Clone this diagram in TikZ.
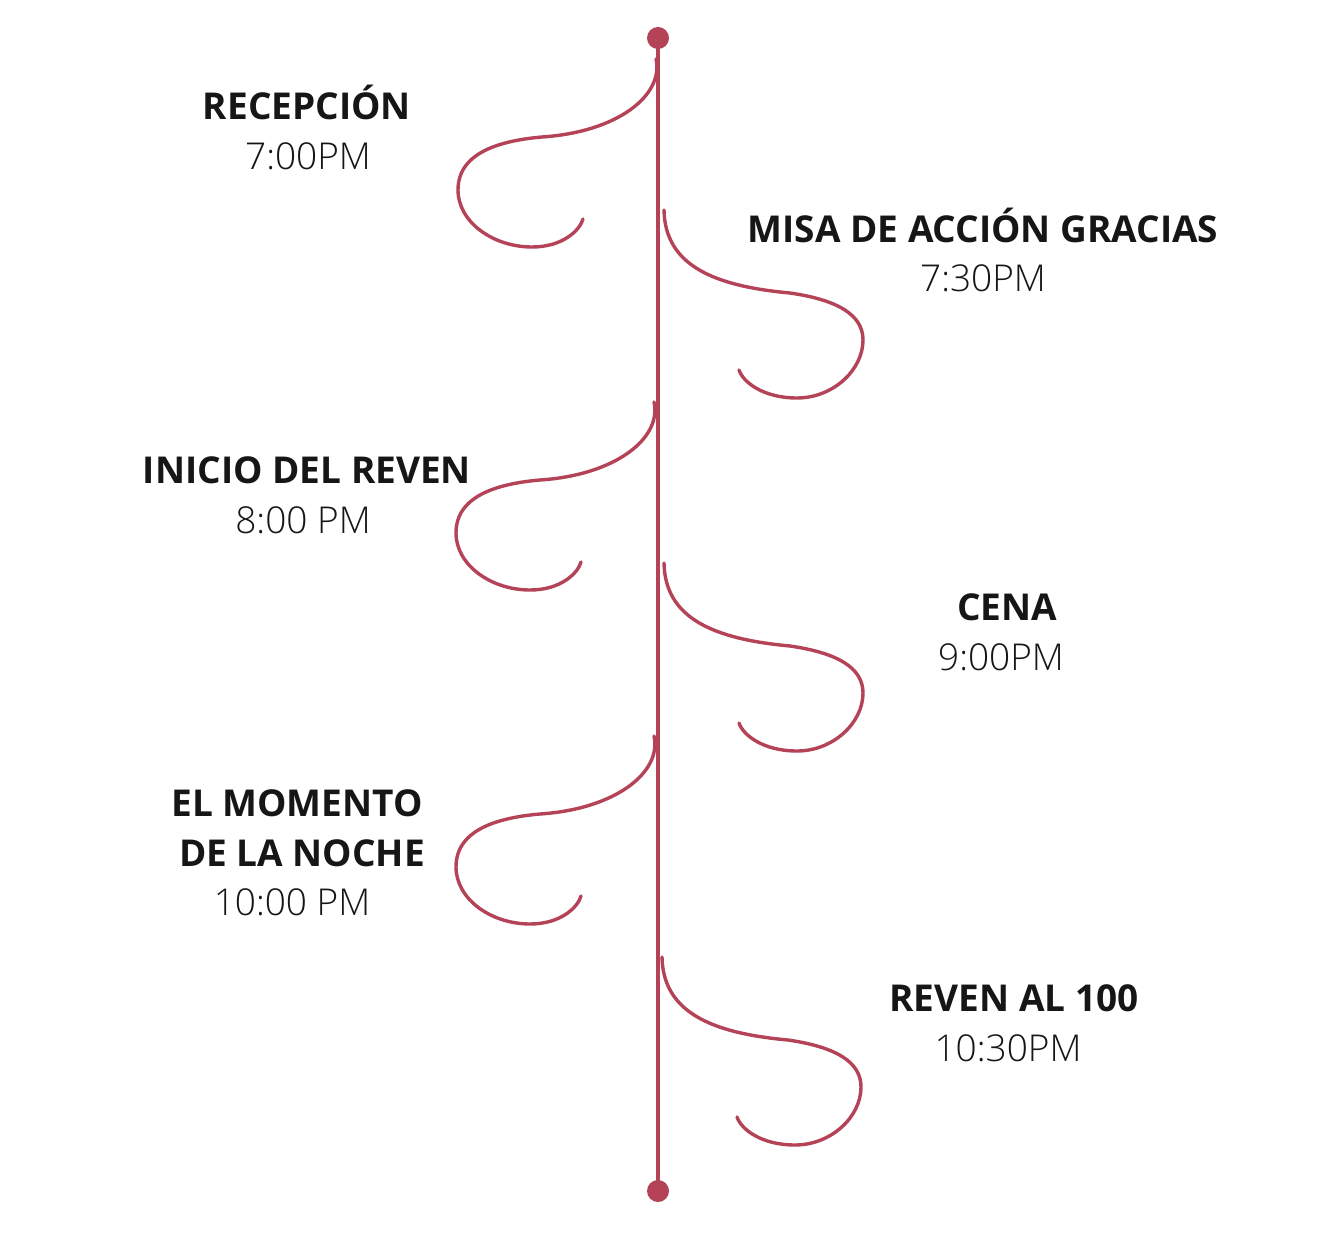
\documentclass[tikz,border=0pt]{standalone}
\usepackage{fontspec}
\setmainfont{Open Sans}
\newfontfamily\lightf{Open Sans Light}
\definecolor{wine}{RGB}{181,67,88}
\definecolor{ink}{RGB}{22,22,22}
\tikzset{
  curl/.style={draw=wine, line width=3.4pt, line cap=round},
  axisline/.style={draw=wine, line width=4pt},
  dotnode/.style={circle, fill=wine, minimum size=22pt, inner sep=0pt},
  title/.style={anchor=base, inner sep=0pt, text=ink, font=\fontsize{37}{42}\selectfont\bfseries},
  when/.style={anchor=base, inner sep=0pt, text=ink, font=\fontsize{37}{42}\selectfont\lightf},
}
\newcommand\lcurl[1]{%
  \draw[curl, shift={#1}] (198,-131) .. controls (206,-95) and (160,-58) .. (84,-53)
    .. controls (14,-47) and (0,-22) .. (0,0)
    .. controls (0,32) and (35,57) .. (74,57)
    .. controls (105,57) and (122,40) .. (125,29);}
\newcommand\rcurl[1]{%
  \draw[curl, shift={#1}] (-199,-130) .. controls (-198,-75) and (-150,-54) .. (-73,-47)
    .. controls (-25,-40) and (0,-25) .. (0,0)
    .. controls (0,30) and (-30,58) .. (-66,58)
    .. controls (-100,58) and (-120,42) .. (-124,30);}
\begin{document}
\begin{tikzpicture}[x=1pt,y=-1pt]
\fill[white] (0,0) rectangle (1324,1238);
\useasboundingbox (0,0) rectangle (1324,1238);
\lcurl{(458,190)}
\rcurl{(863,340)}
\lcurl{(456,533)}
\rcurl{(863,693)}
\lcurl{(456,867)}
\rcurl{(861,1087)}
\node[dotnode] (top) at (658,38) {};
\node[dotnode] (bot) at (658,1191) {};
\draw[axisline] (top.center) -- (bot.center);
\node[title] (t1) at (307,120) {RECEPCIÓN};
\node[when] (w1) at (308,170) {7:00PM};
\node[title] (t2) at (983,243) {MISA DE ACCIÓN GRACIAS};
\node[when] (w2) at (983,292) {7:30PM};
\node[title] (t3) at (307,483) {INICIO DEL REVEN};
\node[when] (w3) at (303,533) {8:00 PM};
\node[title] (t4) at (1007,620) {CENA};
\node[when] (w4) at (1001,670) {9:00PM};
\node[title] (t5a) at (297,816) {EL MOMENTO};
\node[title] (t5b) at (302,866) {DE LA NOCHE};
\node[when] (w5) at (292,915) {10:00 PM};
\node[title] (t6) at (1014,1011) {REVEN AL 100};
\node[when] (w6) at (1008,1061) {10:30PM};
\end{tikzpicture}
\end{document}
